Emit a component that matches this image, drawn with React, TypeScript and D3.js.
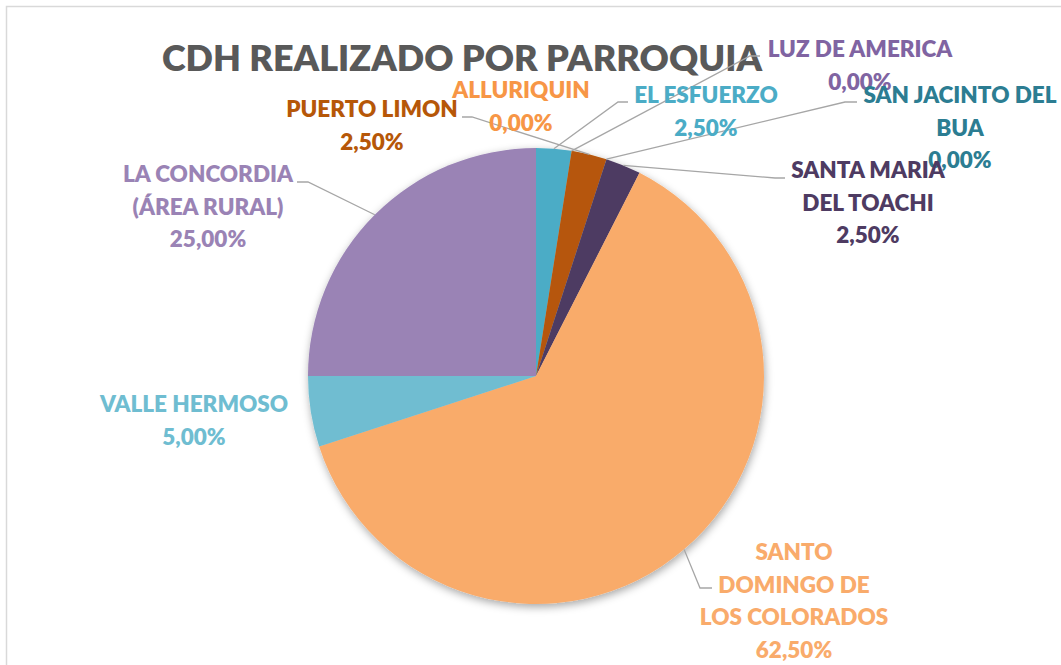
import React from 'react';
import * as d3 from 'd3';

// slices clockwise from 12 o'clock, in the sheet's row order
const categories = [
  'ALLURIQUIN',
  'EL ESFUERZO',
  'LUZ DE AMERICA',
  'PUERTO LIMON',
  'SAN JACINTO DEL BUA',
  'SANTA MARIA DEL TOACHI',
  'SANTO DOMINGO DE LOS COLORADOS',
  'VALLE HERMOSO',
  'LA CONCORDIA (ÁREA RURAL)',
];
const values = [0, 2.5, 0, 2.5, 0, 2.5, 62.5, 5, 25];
const labelLines = [
  ['ALLURIQUIN'],
  ['EL ESFUERZO'],
  ['LUZ DE AMERICA'],
  ['PUERTO LIMON'],
  ['SAN JACINTO DEL', 'BUA'],
  ['SANTA MARIA', 'DEL TOACHI'],
  ['SANTO', 'DOMINGO DE', 'LOS COLORADOS'],
  ['VALLE HERMOSO'],
  ['LA CONCORDIA', '(ÁREA RURAL)'],
];
const colors = [
  '#F79646', '#4BACC6', '#8064A2',
  '#B65708', '#2C7D92', '#4E3B62',
  '#F9AB6B', '#6FBDD1', '#9A83B5',
];

// label boxes were dragged by hand in the original, so they sit where the picture has them
const labelLayout: { x: number; y: number; leader: [number, number][] | null }[] = [
  { x: 521, y: 98, leader: null },
  { x: 706, y: 103, leader: [[628, 102], [618, 102]] },
  { x: 860, y: 57, leader: [[760, 56], [750, 56]] },
  { x: 372, y: 117, leader: [[462, 117], [472, 117]] },
  { x: 960, y: 103, leader: [[857, 102], [845, 102]] },
  { x: 868, y: 178, leader: [[785, 178], [775, 178]] },
  { x: 794, y: 560, leader: [[712, 588], [700, 588]] },
  { x: 194, y: 412, leader: null },
  { x: 208, y: 182, leader: [[297, 182], [308, 182]] },
];

const W = 1061;
const H = 665;
const cx = 536;
const cy = 376;
const R = 228;
const lineH = 32.6;
const font = 'Lato, "Open Sans", sans-serif';

const fmt = (v: number) => d3.format('.2f')(v).replace('.', ',') + '%';

export default function App() {
  const total = d3.sum(values);
  const pie = d3.pie<number>().sort(null).value(d => d);
  const arcs = pie(values);
  const arc = d3.arc<d3.PieArcDatum<number>>().innerRadius(0).outerRadius(R);

  const edgePoint = (a: d3.PieArcDatum<number>) => {
    const mid = (a.startAngle + a.endAngle) / 2;
    return [cx + R * Math.sin(mid), cy - R * Math.cos(mid)] as [number, number];
  };
  const line = d3.line();

  return (
    <svg width={W} height={H} style={{ position: 'absolute', left: 0, top: 0, background: '#fff' }}>
      <defs>
        <filter id="pieShadow" x="-20%" y="-20%" width="140%" height="140%">
          <feDropShadow dx="1" dy="3" stdDeviation="4" floodColor="#000" floodOpacity="0.35" />
        </filter>
      </defs>
      <rect x={6.5} y={6.5} width={W + 10} height={H + 10} fill="#fff" stroke="#D9D9D9" strokeWidth={1.5} />

      <text x={462} y={71} textAnchor="middle" fontFamily={font} fontWeight={800} fontSize={36} fill="#595959">
        CDH REALIZADO POR PARROQUIA
      </text>

      <g transform={`translate(${cx},${cy})`} filter="url(#pieShadow)">
        {arcs.map((a, i) =>
          a.value > 0 ? <path key={categories[i]} d={arc(a) || ''} fill={colors[i]} /> : null
        )}
      </g>

      <g fill="none" stroke="#A6A6A6" strokeWidth={1.3}>
        {arcs.map((a, i) => {
          const lay = labelLayout[i];
          if (!lay.leader) return null;
          const pts = [...lay.leader, edgePoint(a)];
          return <path key={categories[i]} d={line(pts) || ''} />;
        })}
      </g>

      <g fontFamily={font} fontWeight={800} fontSize={22.5} textAnchor="middle">
        {arcs.map((a, i) => {
          const lay = labelLayout[i];
          const lines = [...labelLines[i], fmt((a.value / total) * 100)];
          return (
            <text key={categories[i]} fill={colors[i]}>
              {lines.map((t, k) => (
                <tspan key={k} x={lay.x} y={lay.y + k * lineH}>{t}</tspan>
              ))}
            </text>
          );
        })}
      </g>
    </svg>
  );
}
